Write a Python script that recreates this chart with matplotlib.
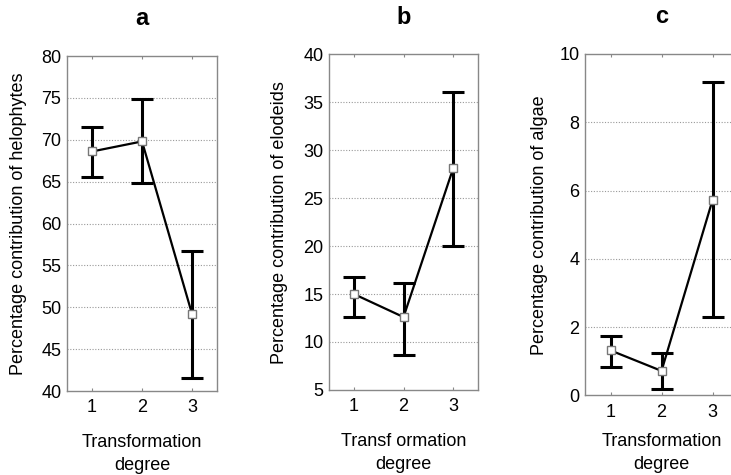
import matplotlib
matplotlib.use("Agg")
import matplotlib.pyplot as plt

plt.rcParams['font.family'] = ['Liberation Sans', 'DejaVu Sans']

degrees = [1, 2, 3]

# a - helophytes
helo_mean = [68.6, 69.8, 49.2]
helo_low = [65.6, 64.8, 41.5]
helo_high = [71.5, 74.9, 56.7]

# b - elodeids
elod_mean = [15.0, 12.6, 28.1]
elod_low = [12.6, 8.6, 20.0]
elod_high = [16.8, 16.2, 36.1]

# c - algae
alg_mean = [1.32, 0.72, 5.72]
alg_low = [0.84, 0.18, 2.31]
alg_high = [1.75, 1.25, 9.17]

panels = [
    ('a', 'Percentage contribution of helophytes', 'Transformation\ndegree',
     helo_mean, helo_low, helo_high, (40, 80), list(range(40, 81, 5))),
    ('b', 'Percentage contribution of elodeids', 'Transf ormation\ndegree',
     elod_mean, elod_low, elod_high, (5, 40), list(range(5, 41, 5))),
    ('c', 'Percentage contribution of algae', 'Transformation\ndegree',
     alg_mean, alg_low, alg_high, (0, 10), list(range(0, 11, 2))),
]

# axes boxes in figure fractions (left, bottom, width, height)
boxes = [
    [0.0917, 0.1768, 0.2052, 0.7053],
    [0.4501, 0.1790, 0.2038, 0.7070],
    [0.8003, 0.1674, 0.2093, 0.7190],
]
label_x = [-0.265, -0.273, -0.240]
xlab_pad = [13, 13, 9]

fig = plt.figure(figsize=(7.31, 4.75), dpi=100)

for (letter, ylab, xlab, mean, low, high, ylim, yticks), box, lx, xp in zip(panels, boxes, label_x, xlab_pad):
    ax = fig.add_axes(box)
    yerr = [[m - l for m, l in zip(mean, low)], [h - m for m, h in zip(mean, high)]]
    ax.errorbar(degrees, mean, yerr=yerr, fmt='none', ecolor='black',
                elinewidth=2.2, capsize=8, capthick=2.2, zorder=2)
    ax.plot(degrees, mean, color='black', lw=1.6, zorder=3)
    ax.plot(degrees, mean, 's', ms=5.5, mfc='white', mec='#777777', mew=1, zorder=4)

    ax.set_xlim(0.5, 3.5)
    ax.set_ylim(*ylim)
    ax.set_xticks(degrees)
    ax.set_yticks(yticks)
    for t in yticks[1:-1]:
        ax.axhline(t, color='#999999', lw=0.8, ls=(0, (1, 1.5)), zorder=1)

    ax.tick_params(axis='x', direction='in', length=2, width=0.8, color='#888888',
                   top=True, labelsize=13, pad=6)
    ax.tick_params(axis='y', length=0, labelsize=13, pad=4)
    for s in ax.spines.values():
        s.set_color('#888888')
        s.set_linewidth(1)

    ax.set_ylabel(ylab, fontsize=13)
    ax.yaxis.set_label_coords(lx, 0.5)
    ax.set_xlabel(xlab, fontsize=13, linespacing=1.4, labelpad=xp)
    ax.set_title(letter, fontsize=17, fontweight='bold', pad=22)

fig.savefig('out.png', dpi=100)
